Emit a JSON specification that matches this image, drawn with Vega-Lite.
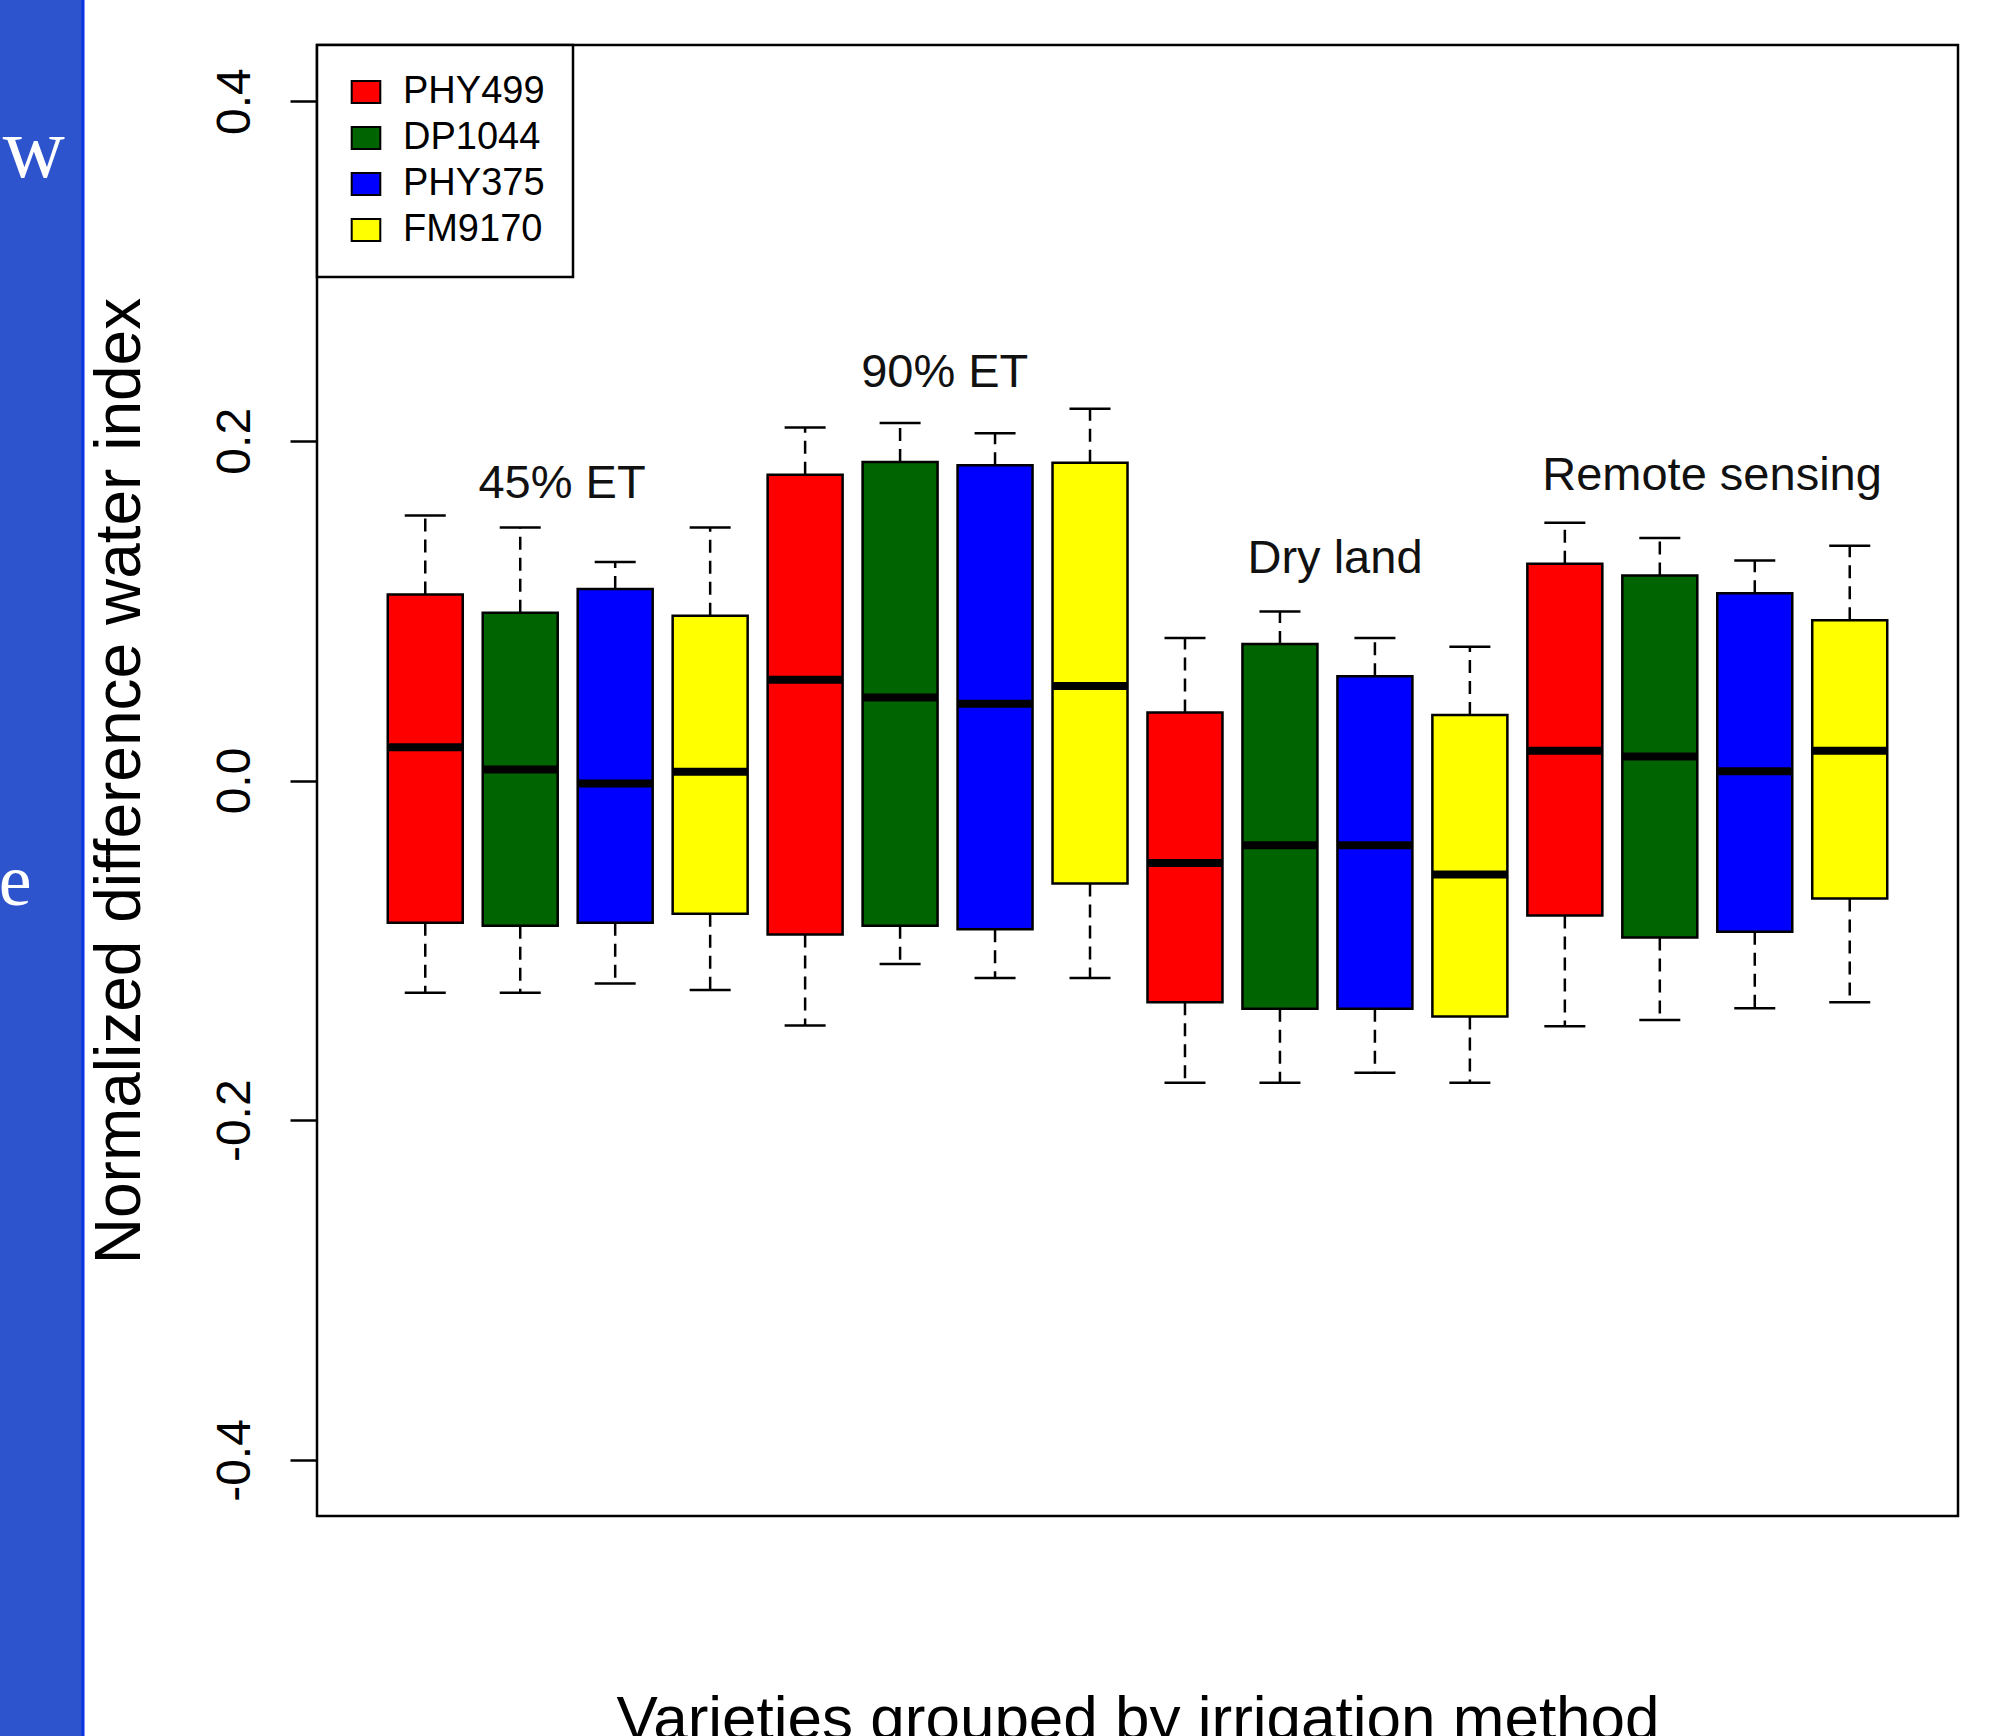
{
  "$schema": "https://vega.github.io/schema/vega-lite/v6.json",
  "width": 1641,
  "height": 1471,
  "autosize": {"type": "none"},
  "padding": {"left": 317, "top": 45, "right": 53, "bottom": 220},
  "background": "white",
  "config": {
    "font": "Liberation Sans",
    "view": {"stroke": "black", "strokeWidth": 2.5},
    "axis": {"grid": false},
    "legend": {"strokeWidth": 2.5},
    "scale": {"continuousPadding": 0}
  },
  "datasets": {
    "boxes": [
      {"group": "45% ET", "variety": "PHY499", "pos": 1, "lo": -0.125, "q1": -0.0837, "med": 0.0196, "q3": 0.1095, "hi": 0.156},
      {"group": "45% ET", "variety": "DP1044", "pos": 2, "lo": -0.125, "q1": -0.0855, "med": 0.0065, "q3": 0.0988, "hi": 0.149},
      {"group": "45% ET", "variety": "PHY375", "pos": 3, "lo": -0.1195, "q1": -0.0837, "med": -0.0018, "q3": 0.1127, "hi": 0.1286},
      {"group": "45% ET", "variety": "FM9170", "pos": 4, "lo": -0.1234, "q1": -0.0784, "med": 0.0052, "q3": 0.097, "hi": 0.149},
      {"group": "90% ET", "variety": "PHY499", "pos": 5, "lo": -0.1443, "q1": -0.0907, "med": 0.0593, "q3": 0.18, "hi": 0.2078},
      {"group": "90% ET", "variety": "DP1044", "pos": 6, "lo": -0.108, "q1": -0.0855, "med": 0.0489, "q3": 0.1875, "hi": 0.2105},
      {"group": "90% ET", "variety": "PHY375", "pos": 7, "lo": -0.1163, "q1": -0.0876, "med": 0.0452, "q3": 0.1856, "hi": 0.2044},
      {"group": "90% ET", "variety": "FM9170", "pos": 8, "lo": -0.1163, "q1": -0.0607, "med": 0.0557, "q3": 0.187, "hi": 0.2188},
      {"group": "Dry land", "variety": "PHY499", "pos": 9, "lo": -0.178, "q1": -0.1305, "med": -0.0486, "q3": 0.04, "hi": 0.0839},
      {"group": "Dry land", "variety": "DP1044", "pos": 10, "lo": -0.178, "q1": -0.1344, "med": -0.0381, "q3": 0.0803, "hi": 0.0995},
      {"group": "Dry land", "variety": "PHY375", "pos": 11, "lo": -0.172, "q1": -0.1344, "med": -0.0381, "q3": 0.0613, "hi": 0.0839},
      {"group": "Dry land", "variety": "FM9170", "pos": 12, "lo": -0.178, "q1": -0.1389, "med": -0.0554, "q3": 0.0385, "hi": 0.0787},
      {"group": "Remote sensing", "variety": "PHY499", "pos": 13, "lo": -0.1447, "q1": -0.0795, "med": 0.0175, "q3": 0.1276, "hi": 0.1517},
      {"group": "Remote sensing", "variety": "DP1044", "pos": 14, "lo": -0.141, "q1": -0.0924, "med": 0.0142, "q3": 0.1207, "hi": 0.1427},
      {"group": "Remote sensing", "variety": "PHY375", "pos": 15, "lo": -0.1341, "q1": -0.0891, "med": 0.0055, "q3": 0.1103, "hi": 0.1295},
      {"group": "Remote sensing", "variety": "FM9170", "pos": 16, "lo": -0.1305, "q1": -0.0695, "med": 0.0175, "q3": 0.0943, "hi": 0.1382}
    ],
    "labels": [
      {"label": "45% ET", "pos": 2.44, "y": 0.1666},
      {"label": "90% ET", "pos": 6.47, "y": 0.2317},
      {"label": "Dry land", "pos": 10.58, "y": 0.1222},
      {"label": "Remote sensing", "pos": 14.55, "y": 0.171}
    ]
  },
  "data": {"name": "boxes"},
  "layer": [
    {
      "data": {"values": [{}]},
      "mark": {"type": "rect", "color": "#2d53cd", "clip": false},
      "encoding": {
        "x": {"datum": -3.48, "type": "quantitative", "scale": {"domain": [-0.14, 17.14], "nice": false, "zero": false, "padding": 0}, "title": "Varieties grouped by irrigation method"},
        "x2": {"datum": -2.5934},
        "y": {"datum": 0.47, "type": "quantitative", "scale": {"domain": [-0.433, 0.433], "nice": false, "zero": false, "padding": 0}, "title": "Normalized difference water index"},
        "y2": {"datum": -0.58}
      }
    },
    {
      "data": {"values": [{}]},
      "mark": {"type": "rule", "color": "#0a33e2", "strokeWidth": 3, "clip": false},
      "encoding": {
        "x": {"datum": -2.604, "type": "quantitative", "scale": {"domain": [-0.14, 17.14], "nice": false, "zero": false, "padding": 0}, "title": "Varieties grouped by irrigation method"},
        "y": {"datum": 0.47, "type": "quantitative", "scale": {"domain": [-0.433, 0.433], "nice": false, "zero": false, "padding": 0}, "title": "Normalized difference water index"},
        "y2": {"datum": -0.58}
      }
    },
    {
      "data": {"values": [{}]},
      "mark": {"type": "text", "text": "w", "font": "Liberation Serif", "fontSize": 86, "color": "white", "align": "left", "baseline": "alphabetic", "clip": false},
      "encoding": {
        "x": {"datum": -3.45, "type": "quantitative", "scale": {"domain": [-0.14, 17.14], "nice": false, "zero": false, "padding": 0}, "title": "Varieties grouped by irrigation method"},
        "y": {"datum": 0.355, "type": "quantitative", "scale": {"domain": [-0.433, 0.433], "nice": false, "zero": false, "padding": 0}, "title": "Normalized difference water index"}
      }
    },
    {
      "data": {"values": [{}]},
      "mark": {"type": "text", "text": "e", "font": "Liberation Serif", "fontSize": 74, "color": "white", "align": "left", "baseline": "alphabetic", "clip": false},
      "encoding": {
        "x": {"datum": -3.49, "type": "quantitative", "scale": {"domain": [-0.14, 17.14], "nice": false, "zero": false, "padding": 0}, "title": "Varieties grouped by irrigation method"},
        "y": {"datum": -0.0733, "type": "quantitative", "scale": {"domain": [-0.433, 0.433], "nice": false, "zero": false, "padding": 0}, "title": "Normalized difference water index"}
      }
    },
    {
      "mark": {"type": "rule", "color": "black", "strokeWidth": 2.5, "strokeDash": [13, 8]},
      "encoding": {
        "x": {"field": "pos", "type": "quantitative", "scale": {"domain": [-0.14, 17.14], "nice": false, "zero": false, "padding": 0}, "title": "Varieties grouped by irrigation method"},
        "y": {"field": "q3", "type": "quantitative", "scale": {"domain": [-0.433, 0.433], "nice": false, "zero": false, "padding": 0}, "title": "Normalized difference water index"},
        "y2": {"field": "hi"}
      }
    },
    {
      "mark": {"type": "rule", "color": "black", "strokeWidth": 2.5, "strokeDash": [13, 8]},
      "encoding": {
        "x": {"field": "pos", "type": "quantitative", "scale": {"domain": [-0.14, 17.14], "nice": false, "zero": false, "padding": 0}, "title": "Varieties grouped by irrigation method"},
        "y": {"field": "q1", "type": "quantitative", "scale": {"domain": [-0.433, 0.433], "nice": false, "zero": false, "padding": 0}, "title": "Normalized difference water index"},
        "y2": {"field": "lo"}
      }
    },
    {
      "mark": {"type": "tick", "orient": "horizontal", "size": 41, "thickness": 2.5, "color": "black", "opacity": 1},
      "encoding": {
        "x": {"field": "pos", "type": "quantitative", "scale": {"domain": [-0.14, 17.14], "nice": false, "zero": false, "padding": 0}, "title": "Varieties grouped by irrigation method"},
        "y": {"field": "hi", "type": "quantitative", "scale": {"domain": [-0.433, 0.433], "nice": false, "zero": false, "padding": 0}, "title": "Normalized difference water index"}
      }
    },
    {
      "mark": {"type": "tick", "orient": "horizontal", "size": 41, "thickness": 2.5, "color": "black", "opacity": 1},
      "encoding": {
        "x": {"field": "pos", "type": "quantitative", "scale": {"domain": [-0.14, 17.14], "nice": false, "zero": false, "padding": 0}, "title": "Varieties grouped by irrigation method"},
        "y": {"field": "lo", "type": "quantitative", "scale": {"domain": [-0.433, 0.433], "nice": false, "zero": false, "padding": 0}, "title": "Normalized difference water index"}
      }
    },
    {
      "mark": {"type": "bar", "size": 75, "stroke": "black", "strokeWidth": 2.5, "opacity": 1},
      "encoding": {
        "x": {
          "field": "pos", "type": "quantitative",
          "scale": {"domain": [-0.14, 17.14], "nice": false, "zero": false, "padding": 0},
          "title": "Varieties grouped by irrigation method",
          "axis": {"labels": false, "ticks": false, "domain": false, "grid": false, "titleFontSize": 62, "titleFontWeight": "normal", "titleColor": "black", "titleBaseline": "alphabetic", "titleAlign": "center", "titleX": 820.5, "titleY": 222}
        },
        "y": {
          "field": "q1", "type": "quantitative",
          "scale": {"domain": [-0.433, 0.433], "nice": false, "zero": false, "padding": 0},
          "title": "Normalized difference water index",
          "axis": {"values": [-0.4, -0.2, 0, 0.2, 0.4], "labelExpr": "replace(format(datum.value, '.1f'), '\u2212', '-')", "labelAngle": 270, "labelAlign": "center", "labelBaseline": "alphabetic", "labelFontSize": 48, "labelColor": "black", "labelPadding": 41, "labelFlush": false, "labelOverlap": false, "tickSize": 27, "tickWidth": 2.5, "tickColor": "black", "domain": false, "grid": false, "titleFontSize": 64, "titleFontWeight": "normal", "titleColor": "black", "titleAngle": 270, "titleBaseline": "alphabetic", "titleAlign": "center", "titleX": -178, "titleY": 735.5}
        },
        "y2": {"field": "q3"},
        "color": {
          "field": "variety", "type": "nominal",
          "scale": {"domain": ["PHY499", "DP1044", "PHY375", "FM9170"], "range": ["#ff0000", "#006400", "#0000ff", "#ffff00"]},
          "legend": {"title": null, "orient": "top-left", "offset": 0, "padding": 28, "strokeColor": "black", "fillColor": "white", "labelFontSize": 38, "labelColor": "black", "labelOffset": 18, "labelLimit": 400, "symbolType": "M-1.1,-0.85H1.1V0.85H-1.1Z", "symbolSize": 676, "symbolStrokeColor": "black", "symbolStrokeWidth": 2, "symbolOffset": 2, "rowPadding": 8}
        }
      }
    },
    {
      "mark": {"type": "tick", "orient": "horizontal", "size": 75, "thickness": 8, "color": "black", "opacity": 1},
      "encoding": {
        "x": {"field": "pos", "type": "quantitative", "scale": {"domain": [-0.14, 17.14], "nice": false, "zero": false, "padding": 0}, "title": "Varieties grouped by irrigation method"},
        "y": {"field": "med", "type": "quantitative", "scale": {"domain": [-0.433, 0.433], "nice": false, "zero": false, "padding": 0}, "title": "Normalized difference water index"}
      }
    },
    {
      "data": {"name": "labels"},
      "mark": {"type": "text", "fontSize": 47, "color": "#111111", "align": "center", "baseline": "alphabetic"},
      "encoding": {
        "x": {"field": "pos", "type": "quantitative", "scale": {"domain": [-0.14, 17.14], "nice": false, "zero": false, "padding": 0}, "title": "Varieties grouped by irrigation method"},
        "y": {"field": "y", "type": "quantitative", "scale": {"domain": [-0.433, 0.433], "nice": false, "zero": false, "padding": 0}, "title": "Normalized difference water index"},
        "text": {"field": "label"}
      }
    }
  ]
}
